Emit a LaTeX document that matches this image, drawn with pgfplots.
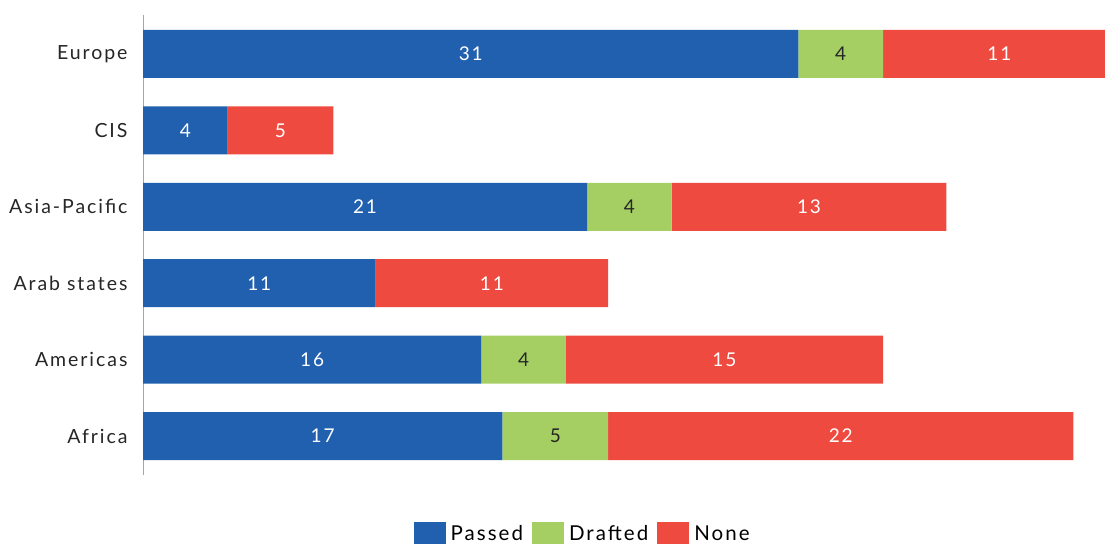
\documentclass[border=0pt]{standalone}
\usepackage{pgfplots}
\pgfplotsset{compat=1.18}
\usepackage{fontspec}
\setmainfont{Lato}[LetterSpace=10]
\definecolor{cblue}{HTML}{2160AE}
\definecolor{cgreen}{HTML}{A5CF62}
\definecolor{cred}{HTML}{EE4A3F}
\definecolor{axisgray}{HTML}{A6A6A6}
\begin{document}
\begin{tikzpicture}
\pgfplotsset{common/.style={
  at={(143pt,71pt)}, anchor=south west,
  scale only axis, width=962pt, height=460pt,
  xmin=0, xmax=45.5, ymin=-0.51, ymax=5.51,
}}
\begin{axis}[common,
  xbar stacked, bar width=48pt,
  axis x line=none, axis y line*=left,
  y axis line style={draw=axisgray, line width=0.8pt},
  xtick=\empty,
  ytick={0,1,2,3,4,5},
  yticklabels={Africa,Americas,Arab states,Asia-Pacific,CIS,Europe},
  major tick length=0pt,
  yticklabel style={font=\fontsize{19.5}{22}\selectfont, text=black!85, xshift=-12pt},
  legend style={at={(0.457,-0.127)}, anchor=center, draw=none, fill=none,
    legend columns=3, font=\fontsize{20.5}{24}\selectfont,
    /tikz/every odd column/.append style={column sep=3pt},
    /tikz/every even column/.append style={column sep=7pt}},
  legend image code/.code={\fill[#1] (0pt,-11pt) rectangle (32pt,11pt);},
]
\addplot[fill=cblue, draw=none] coordinates {(17,0) (16,1) (11,2) (21,3) (4,4) (31,5)};
\addplot[fill=cgreen, draw=none] coordinates {(5,0) (4,1) (0,2) (4,3) (0,4) (4,5)};
\addplot[fill=cred, draw=none] coordinates {(22,0) (15,1) (11,2) (13,3) (5,4) (11,5)};
\legend{Passed,Drafted,None}
\end{axis}
\begin{axis}[common, hide axis]
\addplot[draw=none, mark=none, nodes near coords, point meta=explicit symbolic,
  every node near coord/.append style={anchor=center, text=white, font=\fontsize{19}{22}\selectfont}]
  table[meta=lab] {
x y lab
8.5 0 17
33 0 22
8 1 16
27.5 1 15
5.5 2 11
16.5 2 11
10.5 3 21
31.5 3 13
2 4 4
6.5 4 5
15.5 5 31
40.5 5 11
};
\addplot[draw=none, mark=none, nodes near coords, point meta=explicit symbolic,
  every node near coord/.append style={anchor=center, text=black!85, font=\fontsize{19}{22}\selectfont}]
  table[meta=lab] {
x y lab
19.5 0 5
18 1 4
23 3 4
33 5 4
};
\end{axis}
\pgfresetboundingbox
\path (0,0) rectangle (1105pt,546pt);
\end{tikzpicture}
\end{document}
